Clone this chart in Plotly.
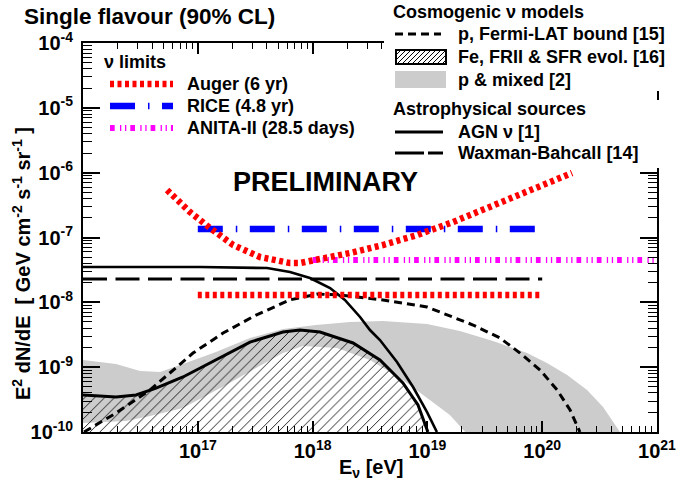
import plotly.graph_objects as go

W, H = 691, 481
PL, PR, PT, PB = 83, 657, 43, 432   # plot frame in px

X_LOG_RANGE = [16, 21]
Y_LOG_RANGE = [-10, -4]
Y_FLOOR = 1e-10

# ---------------- data (E in eV, E^2 dN/dE in GeV cm^-2 s^-1 sr^-1) ----------------
AUGER_DIFF_E = [5.40e16, 8.55e16, 1.28e17, 2.03e17, 3.48e17, 6.35e17, 7.76e17, 1.23e18,
                2.12e18, 4.10e18, 8.11e18, 1.67e19, 3.30e19, 6.41e19, 1.24e20, 1.82e20]
AUGER_DIFF_F = [5.40e-7, 2.47e-7, 1.40e-7, 7.66e-8, 5.00e-8, 4.04e-8, 4.04e-8, 4.66e-8,
                5.77e-8, 7.66e-8, 1.09e-7, 1.73e-7, 2.85e-7, 4.85e-7, 7.71e-7, 9.89e-7]
AUGER_INT_E = [1e17, 1e20]
AUGER_INT_F = [1.30e-8, 1.30e-8]
RICE_E = [1e17, 1e20]
RICE_F = [1.35e-7, 1.35e-7]
ANITA_E = [1e18, 1e21]
ANITA_F = [4.5e-8, 4.5e-8]
WB_E = [1e16, 1e20]
WB_F = [2.3e-8, 2.3e-8]

AGN_E = [1e16, 1.05e17, 4.01e17, 6.35e17, 9.48e17, 1.42e18, 1.91e18, 2.59e18, 3.16e18,
         3.86e18, 5.43e18, 7.50e18, 9.93e18, 1.21e19]
AGN_F = [3.51e-8, 3.51e-8, 3.38e-8, 2.94e-8, 2.37e-8, 1.66e-8, 1.09e-8, 5.94e-9, 3.74e-9,
         2.62e-9, 1.20e-9, 4.94e-10, 2.03e-10, 1.0e-10]

FERMI_E = [1.02e16, 1.94e16, 3.84e16, 5.73e16, 9.08e16, 1.66e17, 3.22e17, 6.35e17, 1.09e18,
           1.73e18, 4.10e18, 9.93e18, 2.50e19, 4.29e19, 6.41e19, 9.58e19, 1.35e20, 1.75e20, 2.13e20]
FERMI_F = [1.0e-10, 1.96e-10, 4.45e-10, 8.13e-10, 1.65e-9, 3.36e-9, 6.37e-9, 1.09e-8, 1.34e-8,
           1.30e-8, 1.09e-8, 8.47e-9, 4.47e-9, 2.82e-9, 1.65e-9, 9.04e-10, 4.45e-10, 2.18e-10, 1.0e-10]

FE_E = [1e16, 1.94e16, 2.90e16, 4.33e16, 7.43e16, 1.44e17, 2.85e17, 5.52e17, 7.76e17, 1.16e18,
        2.25e18, 3.86e18, 6.12e18, 8.28e18, 1.01e19]
FE_F = [3.72e-10, 3.47e-10, 3.72e-10, 4.76e-10, 7.05e-10, 1.29e-9, 2.44e-9, 3.49e-9, 3.74e-9,
        3.49e-9, 2.36e-9, 1.29e-9, 5.70e-10, 2.61e-10, 1.0e-10]

PMIX_UP_E = [1e16, 1.94e16, 3.14e16, 4.69e16, 7.43e16, 1.44e17, 2.85e17, 5.52e17, 1.07e18,
             2.12e18, 4.10e18, 9.93e18, 1.92e19, 3.73e19, 7.38e19, 1.10e20, 1.65e20, 2.46e20,
             3.39e20, 4.76e20]
PMIX_UP_F = [1.29e-9, 1.12e-9, 8.73e-10, 8.42e-10, 1.12e-9, 1.71e-9, 2.82e-9, 3.88e-9, 4.47e-9,
             4.97e-9, 5.15e-9, 4.63e-9, 3.61e-9, 2.53e-9, 1.65e-9, 1.16e-9, 7.57e-10, 4.45e-10,
             2.43e-10, 1.0e-10]
PMIX_LO_E = [1e16, 2.37e16, 3.84e16, 7.43e16, 1.76e17, 3.22e17, 5.52e17, 8.24e17, 1.63e18,
             3.16e18, 6.12e18, 1.05e19, 1.57e19, 2.13e19]
PMIX_LO_F = [1.38e-10, 1.48e-10, 1.76e-10, 2.34e-10, 5.31e-10, 9.70e-10, 1.65e-9, 2.12e-9,
             1.97e-9, 1.29e-9, 6.34e-10, 3.11e-10, 1.83e-10, 1.0e-10]

X_TICK_EXP = [16, 17, 18, 19, 20, 21]
Y_TICK_EXP = [-10, -9, -8, -7, -6, -5, -4]

FONT = "Liberation Sans"
RED, BLUE, MAGENTA, GREY = "#ff0000", "#0000ff", "#ff00ff", "#cccccc"
DASH_AUGER = "4px,3.5px"
DASH_RICE = "25px,13px,1.5px,12.5px"
DASH_ANITA = "4.7px,5.3px,1.3px,3.7px,1.3px,4px"
DASH_WB = "24px,8.5px"
DASH_FERMI = "8px,5px"


def fx(p):
    return p / W


def fy(p):
    return 1 - p / H


fig = go.Figure()


def add_line(x, y, color, width, dash="solid"):
    fig.add_trace(go.Scatter(x=x, y=y, mode="lines", showlegend=False, hoverinfo="skip",
                             line=dict(color=color, width=width, dash=dash)))


# grey band: p & mixed
fig.add_trace(go.Scatter(x=PMIX_UP_E + PMIX_LO_E[::-1], y=PMIX_UP_F + PMIX_LO_F[::-1],
                         mode="lines", fill="toself", fillcolor=GREY, line=dict(width=0),
                         showlegend=False, hoverinfo="skip"))
# hatched Fe region
fig.add_trace(go.Scatter(x=FE_E + [FE_E[-1], FE_E[0]], y=FE_F + [Y_FLOOR, Y_FLOOR],
                         mode="lines", fill="toself", fillcolor="rgba(0,0,0,0)",
                         fillpattern=dict(shape="/", size=7, solidity=0.12, fgcolor="black",
                                          bgcolor="rgba(0,0,0,0)", fgopacity=1),
                         line=dict(width=0), showlegend=False, hoverinfo="skip"))
add_line(FE_E, FE_F, "black", 3)
add_line(FERMI_E, FERMI_F, "black", 3, DASH_FERMI)
add_line(AGN_E, AGN_F, "black", 2.6)
add_line(WB_E, WB_F, "black", 3, DASH_WB)
add_line(AUGER_INT_E, AUGER_INT_F, RED, 6.5, DASH_AUGER)
add_line(RICE_E, RICE_F, BLUE, 6.5, DASH_RICE)
add_line(ANITA_E, ANITA_F, MAGENTA, 6, DASH_ANITA)
add_line(AUGER_DIFF_E, AUGER_DIFF_F, RED, 6.5, DASH_AUGER)


def minor_vals(exps):
    return [k * 10.0 ** e for e in exps[:-1] for k in range(2, 10)]


tickfont = dict(family=FONT, size=20, color="black", weight="bold")
common = dict(type="log", showline=True, linewidth=2, linecolor="black", mirror="ticks",
              ticks="inside", tickcolor="black", showgrid=False, zeroline=False,
              tickmode="array", tickfont=tickfont, automargin=False)

fig.update_layout(
    width=W, height=H, autosize=False, margin=dict(l=0, r=0, t=0, b=0, pad=0),
    paper_bgcolor="white", plot_bgcolor="white",
    xaxis=dict(**common, range=X_LOG_RANGE, domain=[fx(PL), fx(PR)],
               tickvals=[10.0 ** e for e in X_TICK_EXP],
               ticktext=["" if e == 16 else "10<sup>%d</sup>" % e for e in X_TICK_EXP],
               ticklen=11, tickwidth=1.5, ticklabelstandoff=0,
               minor=dict(ticks="inside", ticklen=6, tickwidth=1, tickcolor="black",
                          tickmode="array", tickvals=minor_vals(X_TICK_EXP), showgrid=False)),
    yaxis=dict(**common, range=Y_LOG_RANGE, domain=[fy(PB), fy(PT)],
               tickvals=[10.0 ** e for e in Y_TICK_EXP],
               ticktext=["10<sup>%d</sup>" % e for e in Y_TICK_EXP],
               ticklen=17, tickwidth=1.5, ticklabelstandoff=4,
               minor=dict(ticks="inside", ticklen=9, tickwidth=1, tickcolor="black",
                          tickmode="array", tickvals=minor_vals(Y_TICK_EXP), showgrid=False)),
)

shapes = []
annotations = []


def text(x, y, s, size=18, anchor="left", angle=0):
    annotations.append(dict(x=fx(x), y=fy(y), xref="paper", yref="paper", text=s,
                            showarrow=False, xanchor=anchor, yanchor="middle", textangle=angle,
                            borderpad=0,
                            font=dict(family=FONT, size=size, color="black", weight="bold")))


def seg(x0, y0, x1, y1, color, width, dash="solid"):
    shapes.append(dict(type="line", xref="paper", yref="paper", x0=fx(x0), y0=fy(y0),
                       x1=fx(x1), y1=fy(y1), line=dict(color=color, width=width, dash=dash),
                       layer="above"))


# white legend boxes covering the frame at top right
for (x0, y0, x1, y1) in [(384, 0, 691, 91), (384, 100, 691, 168)]:
    shapes.append(dict(type="rect", xref="paper", yref="paper", x0=fx(x0), y0=fy(y0),
                       x1=fx(x1), y1=fy(y1), fillcolor="white", line=dict(width=0),
                       layer="above"))

# title and labels
text(23, 16, "Single flavour (90% CL)", size=22.5)
text(325, 182, "PRELIMINARY", size=27, anchor="center")
text(371, 468, "E<sub>ν</sub> [eV]", size=20, anchor="center")
text(21, 264, "E<sup>2</sup> dN/dE  [ GeV cm<sup>-2</sup> s<sup>-1</sup> sr<sup>-1</sup> ]",
     size=20, anchor="center", angle=-90)

# left legend: nu limits
text(103, 62, "ν limits")
seg(110, 84, 173, 84, RED, 6.5, DASH_AUGER)
text(186, 84, "Auger (6 yr)")
seg(110, 106, 173, 106, BLUE, 6.5, DASH_RICE)
text(186, 106, "RICE (4.8 yr)")
seg(110, 128, 173, 128, MAGENTA, 6, DASH_ANITA)
text(186, 128, "ANITA-II (28.5 days)")

# right legend
text(392, 12, "Cosmogenic ν models")
seg(395, 34, 441, 34, "black", 3, DASH_FERMI)
text(457, 34, "p, Fermi-LAT bound [15]")
# hatched box
bx0, by0, bx1, by1 = 396, 50, 446, 64
hh = by1 - by0
path = ""
c = bx0 - hh
while c < bx1:
    sx, sy = c, by1
    ex, ey = c + hh, by0
    if sx < bx0:
        sy = by1 - (bx0 - sx)
        sx = bx0
    if ex > bx1:
        ey = by0 + (ex - bx1)
        ex = bx1
    path += "M%.4f,%.4f L%.4f,%.4f " % (fx(sx), fy(sy), fx(ex), fy(ey))
    c += 5
shapes.append(dict(type="path", xref="paper", yref="paper", path=path,
                   line=dict(color="black", width=1), layer="above"))
shapes.append(dict(type="rect", xref="paper", yref="paper", x0=fx(bx0), y0=fy(by0),
                   x1=fx(bx1), y1=fy(by1), line=dict(color="black", width=2), layer="above"))
text(457, 57, "Fe, FRII &amp; SFR evol. [16]")
shapes.append(dict(type="rect", xref="paper", yref="paper", x0=fx(395), y0=fy(71),
                   x1=fx(446), y1=fy(88), fillcolor=GREY, line=dict(width=0), layer="above"))
text(457, 80, "p &amp; mixed [2]")
text(392, 109, "Astrophysical sources")
seg(395, 132, 443, 132, "black", 3)
text(457, 132, "AGN ν [1]")
seg(395, 153, 443, 153, "black", 3, "29px,4px")
text(457, 153, "Waxman-Bahcall [14]")

fig.update_layout(shapes=shapes, annotations=annotations)
fig.write_html("out.html", config={"responsive": False},
               post_script="document.body.style.margin='0';"
                           "document.documentElement.style.overflow='hidden';")
